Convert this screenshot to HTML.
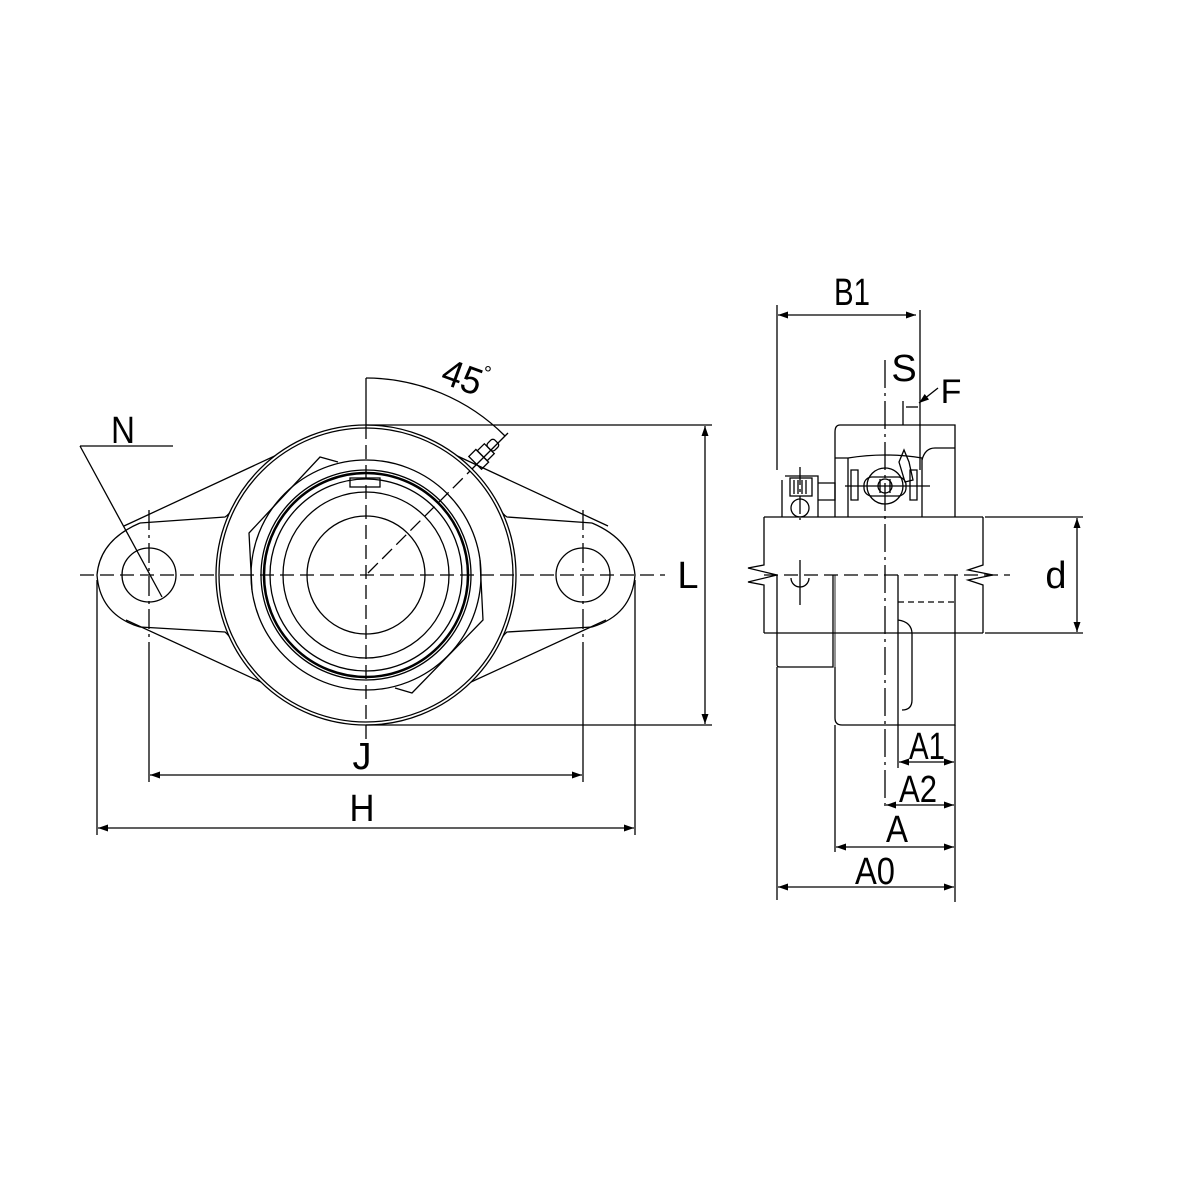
<!DOCTYPE html>
<html><head><meta charset="utf-8"><style>
html,body{margin:0;padding:0;background:#fff;}
svg{display:block;}
text{font-family:"Liberation Sans",sans-serif;fill:#000;}
</style></head><body>
<svg width="1200" height="1200" viewBox="0 0 1200 1200" xmlns="http://www.w3.org/2000/svg">
<defs>
<marker id="ar" viewBox="0 0 10 10" refX="10" refY="5" markerWidth="14" markerHeight="10" markerUnits="userSpaceOnUse" orient="auto-start-reverse"><path d="M0,1.5 L10,5 L0,8.5 Z" fill="#000"/></marker>
</defs>
<g fill="none" stroke="#000" stroke-width="1.3">
<line x1="124" y1="526" x2="294" y2="447"/>
<line x1="126" y1="620" x2="287" y2="694"/>
<line x1="608" y1="526" x2="438" y2="447"/>
<line x1="606" y1="620" x2="445" y2="694"/>
<path d="M140,523 L225,517 Q230,514 232,508"/>
<path d="M140,627 L225,632 Q230,636 232,642"/>
<path d="M592,523 L507,517 Q502,514 500,508"/>
<path d="M592,627 L507,632 Q502,636 500,642"/>
<path d="M140,523 Q100,540 97,575 Q100,615 140,627"/>
<path d="M592,523 Q632,540 635,575 Q632,615 592,627"/>
<ellipse cx="149" cy="575" rx="27" ry="27"/>
<ellipse cx="583" cy="575" rx="27" ry="27"/>
<circle cx="366" cy="575" r="150" fill="#fff"/>
<circle cx="366" cy="575" r="147"/>
<circle cx="366" cy="575" r="115"/>
<path d="M252,590 L249,533 L320,457 L338,462"/>
<path d="M480,560 L483,620 L412,693 L395,688"/>
<circle cx="366" cy="575" r="105"/>
<circle cx="366" cy="575" r="102" stroke-width="2.5"/>
<circle cx="366" cy="575" r="96"/>
<circle cx="366" cy="575" r="83"/>
<circle cx="366" cy="575" r="59"/>
<rect x="350" y="478" width="30" height="9"/>
<g transform="translate(478,460) rotate(45)">
<rect x="-9" y="-6" width="18" height="10"/>
<rect x="-7" y="-16" width="14" height="10"/>
<rect x="-5" y="-26" width="10" height="10" rx="3"/>
</g>
<line x1="472" y1="469" x2="508" y2="433"/>
<path d="M366,378 A197,197 0 0 1 505,436"/>
<line x1="366" y1="378" x2="366" y2="425"/>
<line x1="80" y1="575" x2="665" y2="575" stroke-dasharray="14,6"/>
<line x1="366" y1="425" x2="366" y2="760" stroke-dasharray="14,6"/>
<line x1="368" y1="573" x2="470" y2="471" stroke-dasharray="14,6"/>
<line x1="149" y1="510" x2="149" y2="645" stroke-dasharray="20,5,3,5"/>
<line x1="583" y1="510" x2="583" y2="645" stroke-dasharray="20,5,3,5"/>
<line x1="80" y1="446" x2="173" y2="446"/>
<line x1="80" y1="446" x2="162" y2="597"/>
<line x1="366" y1="425" x2="712" y2="425"/>
<line x1="366" y1="725" x2="712" y2="725"/>
<line x1="705" y1="426" x2="705" y2="724" marker-start="url(#ar)" marker-end="url(#ar)"/>
<line x1="149" y1="645" x2="149" y2="782"/>
<line x1="583" y1="645" x2="583" y2="782"/>
<line x1="150" y1="775" x2="582" y2="775" marker-start="url(#ar)" marker-end="url(#ar)"/>
<line x1="97" y1="580" x2="97" y2="835"/>
<line x1="635" y1="580" x2="635" y2="835"/>
<line x1="98" y1="828" x2="634" y2="828" marker-start="url(#ar)" marker-end="url(#ar)"/>

<path d="M840,425 L955,425 L955,517"/>
<path d="M840,425 Q835,425 835,432 L835,517"/>
<path d="M922,460 Q925,448 935,448 L955,448"/>
<path d="M835,575 L835,718 Q835,725 842,725 L955,725 L955,575"/>
<line x1="898" y1="575" x2="898" y2="725"/>
<line x1="898" y1="602" x2="955" y2="602" stroke-dasharray="6,4"/>
<path d="M898,620 Q912,622 912,634 L912,700 Q912,710 902,710"/>
<path d="M835,458 L848,458 Q885,452 922,458 L922,517"/>
<path d="M848,458 L848,517"/>
<path d="M851,470 L858,470 L858,500 L851,500 Z"/>
<path d="M910,470 L917,470 L917,500 L910,500 Z"/>
<circle cx="885" cy="486" r="18"/>
<rect x="864" y="477" width="42" height="19" rx="8"/>
<circle cx="885" cy="486" r="7"/>
<line x1="880" y1="479" x2="880" y2="493"/><line x1="890" y1="479" x2="890" y2="493"/>
<line x1="845" y1="486" x2="930" y2="486"/>
<path d="M899,462 L904,450 L909,462 L913,480 L905,482 Z"/>
<path d="M818,500 L835,500 L835,483 L818,483"/>
<path d="M785,476 L818,476 L818,517 M782,480 L782,517"/>
<rect x="790" y="478" width="22" height="18"/>
<line x1="794" y1="480" x2="794" y2="494"/><line x1="798" y1="480" x2="798" y2="494"/><line x1="802" y1="480" x2="802" y2="494"/><line x1="806" y1="480" x2="806" y2="494"/>
<circle cx="800" cy="508" r="9"/>
<line x1="800" y1="467" x2="800" y2="520" stroke-dasharray="18,4,3,4"/>
<path d="M777,575 L777,665 Q777,667 780,667 L833,667 L833,575"/>
<line x1="835" y1="575" x2="835" y2="667" stroke="#888" stroke-width="1.5"/>
<path d="M791,578 A9,9 0 0 0 809,578"/>
<line x1="800" y1="560" x2="800" y2="605"/>
<path d="M764,517 L983,517"/>
<path d="M764,633 L983,633"/>
<path d="M764,517 L764,565 L748,568 L777,575 L748,582 L764,585 L764,633"/>
<path d="M983,517 L983,565 L968,570 L993,575 L968,580 L983,585 L983,633"/>
<line x1="985" y1="517" x2="1083" y2="517"/>
<line x1="985" y1="633" x2="1083" y2="633"/>
<line x1="1077" y1="518" x2="1077" y2="632" marker-start="url(#ar)" marker-end="url(#ar)"/>
<line x1="764" y1="575" x2="1010" y2="575" stroke-dasharray="14,6"/>
<line x1="885" y1="360" x2="885" y2="810" stroke-dasharray="28,5,3,5"/>
<line x1="777" y1="305" x2="777" y2="470"/>
<line x1="777" y1="667" x2="777" y2="900"/>
<line x1="920" y1="310" x2="920" y2="470"/>
<line x1="778" y1="315" x2="916" y2="315" marker-start="url(#ar)" marker-end="url(#ar)"/>
<line x1="903" y1="401" x2="903" y2="425"/>
<line x1="906" y1="407" x2="918" y2="407"/>
<line x1="938" y1="388" x2="919" y2="403" marker-end="url(#ar)"/>
<line x1="955" y1="725" x2="955" y2="902"/>
<line x1="898" y1="725" x2="898" y2="768"/>
<line x1="835" y1="725" x2="835" y2="852"/>
<line x1="899" y1="762" x2="954" y2="762" marker-start="url(#ar)" marker-end="url(#ar)"/>
<line x1="886" y1="805" x2="954" y2="805" marker-start="url(#ar)" marker-end="url(#ar)"/>
<line x1="836" y1="847" x2="954" y2="847" marker-start="url(#ar)" marker-end="url(#ar)"/>
<line x1="778" y1="887" x2="954" y2="887" marker-start="url(#ar)" marker-end="url(#ar)"/>
</g>
<g font-size="38">
<text x="123" y="443" text-anchor="middle" textLength="24" lengthAdjust="spacingAndGlyphs">N</text>
<text x="462" y="390" text-anchor="middle" transform="rotate(20 462 378)" textLength="40" lengthAdjust="spacingAndGlyphs">45</text>
<text x="484" y="380" font-size="20">°</text>
<text x="688" y="588" text-anchor="middle">L</text>
<text x="362" y="769" text-anchor="middle">J</text>
<text x="362" y="821" text-anchor="middle" textLength="25" lengthAdjust="spacingAndGlyphs">H</text>
<text x="852" y="305" text-anchor="middle" textLength="36" lengthAdjust="spacingAndGlyphs">B1</text>
<text x="904" y="381" text-anchor="middle">S</text>
<text x="951" y="403" text-anchor="middle" font-size="34">F</text>
<text x="1056" y="588" text-anchor="middle">d</text>
<text x="927" y="759" text-anchor="middle" textLength="36" lengthAdjust="spacingAndGlyphs">A1</text>
<text x="918" y="802" text-anchor="middle" textLength="38" lengthAdjust="spacingAndGlyphs">A2</text>
<text x="897" y="842" text-anchor="middle" textLength="22" lengthAdjust="spacingAndGlyphs">A</text>
<text x="875" y="884" text-anchor="middle" textLength="40" lengthAdjust="spacingAndGlyphs">A0</text>
</g>
</svg>
</body></html>
